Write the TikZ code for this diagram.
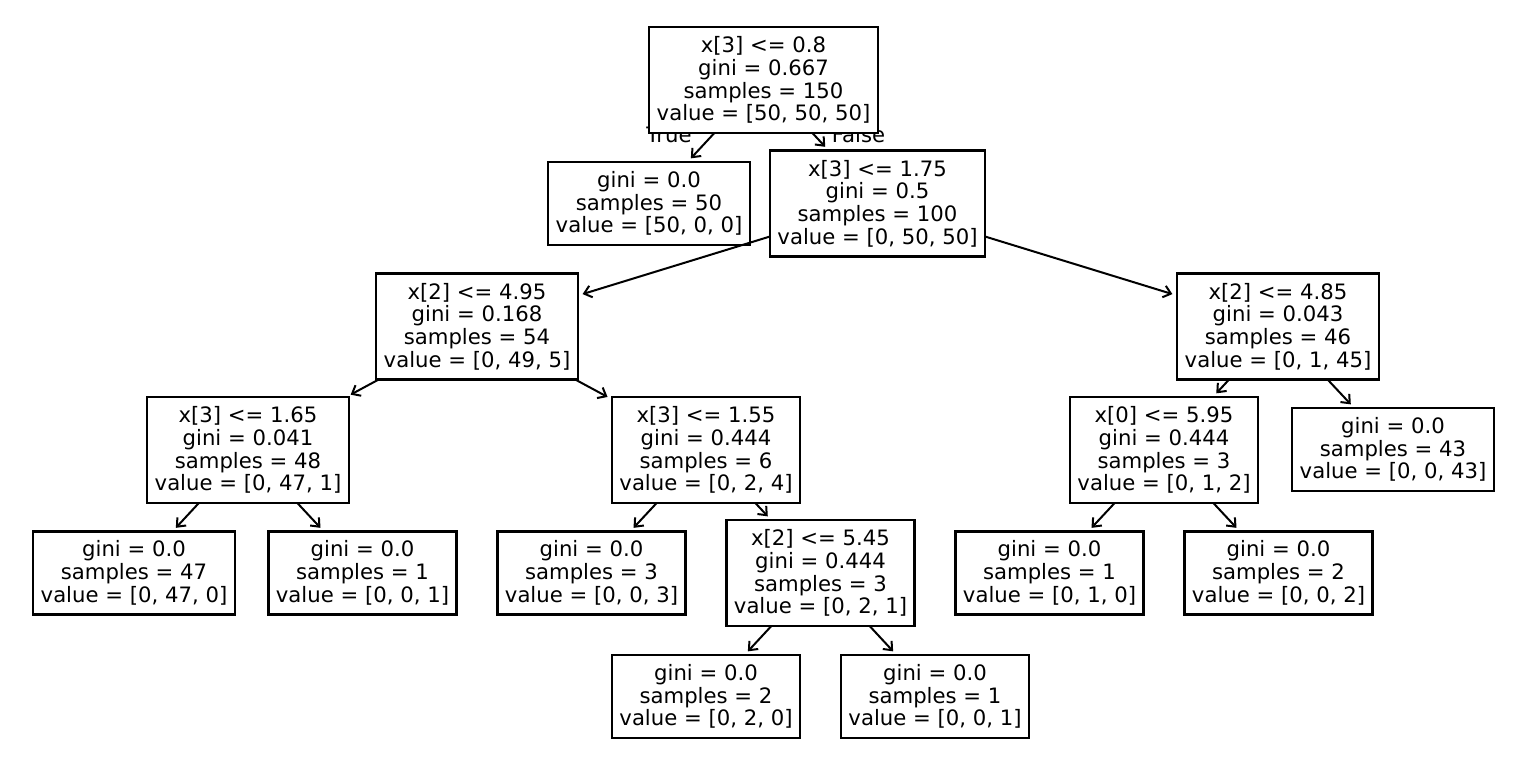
\documentclass[tikz,border=0pt]{standalone}
\usepackage{fontspec}
\setmainfont{DejaVu Sans}
\usetikzlibrary{arrows.meta}
\begin{document}
\begin{tikzpicture}[x=0.5pt,y=-0.5pt,
  font=\fontsize{10.6pt}{11.35pt}\selectfont,
  tbox/.style={draw=black, line width=1.2pt, fill=white, align=center,
    inner xsep=3.75pt, inner ysep=0pt, outer sep=0pt},
  four/.style={tbox, minimum height=53pt},
  three/.style={tbox, minimum height=41.5pt},
  arr/.style={line width=1pt, -{Straight Barb[length=3.6pt,width=6pt,line width=1pt]}, shorten >=2.5pt},
  lbl/.style={inner sep=0pt, anchor=base}
]
\path[use as bounding box] (0,0) rectangle (1526,777);
% edge labels (behind boxes)
\node[lbl] (ltrue) at (669,142) {True};
\node[lbl] (lfalse) at (858.5,142) {False};
% nodes
\node[four]  (root) at (763.5,80)   {x[3] <= 0.8\\gini = 0.667\\samples = 150\\value = [50, 50, 50]};
\node[three] (n1)   at (649,203.5)  {gini = 0.0\\samples = 50\\value = [50, 0, 0]};
\node[four]  (n2)   at (877.5,203.5){x[3] <= 1.75\\gini = 0.5\\samples = 100\\value = [0, 50, 50]};
\node[four]  (n3)   at (477,326.5)  {x[2] <= 4.95\\gini = 0.168\\samples = 54\\value = [0, 49, 5]};
\node[four]  (n4)   at (1278,326.5) {x[2] <= 4.85\\gini = 0.043\\samples = 46\\value = [0, 1, 45]};
\node[four]  (n5)   at (248,450)    {x[3] <= 1.65\\gini = 0.041\\samples = 48\\value = [0, 47, 1]};
\node[four]  (n6)   at (706,450)    {x[3] <= 1.55\\gini = 0.444\\samples = 6\\value = [0, 2, 4]};
\node[four]  (n7)   at (1164,450)   {x[0] <= 5.95\\gini = 0.444\\samples = 3\\value = [0, 1, 2]};
\node[three] (n8)   at (1393,449.5) {gini = 0.0\\samples = 43\\value = [0, 0, 43]};
\node[three] (l1)   at (134,573)    {gini = 0.0\\samples = 47\\value = [0, 47, 0]};
\node[three] (l2)   at (362.5,573)  {gini = 0.0\\samples = 1\\value = [0, 0, 1]};
\node[three] (l3)   at (591.5,573)  {gini = 0.0\\samples = 3\\value = [0, 0, 3]};
\node[four]  (n9)   at (820.5,573)  {x[2] <= 5.45\\gini = 0.444\\samples = 3\\value = [0, 2, 1]};
\node[three] (l5)   at (1049.5,573) {gini = 0.0\\samples = 1\\value = [0, 1, 0]};
\node[three] (l6)   at (1278.5,573) {gini = 0.0\\samples = 2\\value = [0, 0, 2]};
\node[three] (r1)   at (706,696.5)  {gini = 0.0\\samples = 2\\value = [0, 2, 0]};
\node[three] (r2)   at (935,696.5)  {gini = 0.0\\samples = 1\\value = [0, 0, 1]};
% edges
\draw[arr] (root) -- (n1);
\draw[arr] (root) -- (n2);
\draw[arr] (n2) -- (n3);
\draw[arr] (n2) -- (n4);
\draw[arr] (n3) -- (n5);
\draw[arr] (n3) -- (n6);
\draw[arr] (n5) -- (l1);
\draw[arr] (n5) -- (l2);
\draw[arr] (n6) -- (l3);
\draw[arr] (n6) -- (n9);
\draw[arr] (n9) -- (r1);
\draw[arr] (n9) -- (r2);
\draw[arr] (n4) -- (n7);
\draw[arr] (n4) -- (n8);
\draw[arr] (n7) -- (l5);
\draw[arr] (n7) -- (l6);
\end{tikzpicture}
\end{document}
